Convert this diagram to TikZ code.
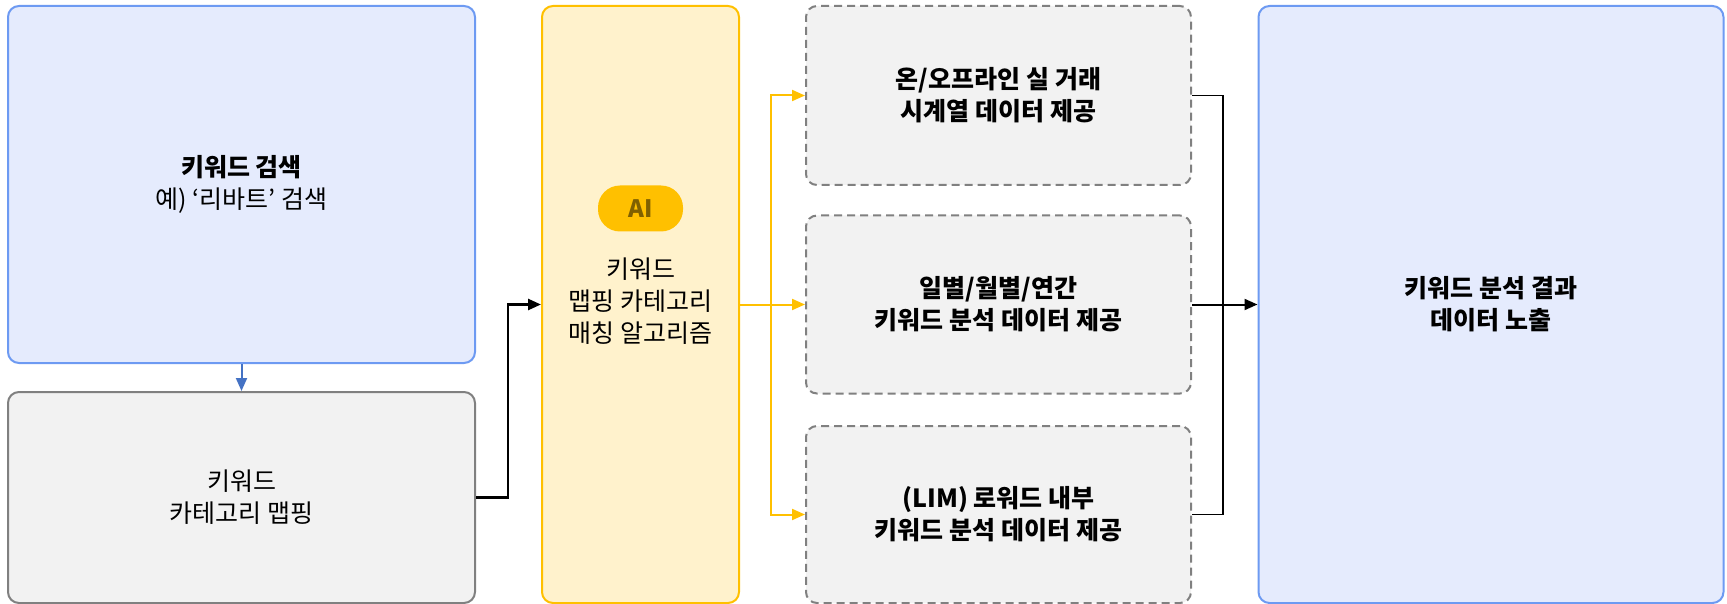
\documentclass[tikz,border=0pt]{standalone}
\usepackage{fontspec}
\setmainfont{Noto Sans CJK KR}
\usetikzlibrary{arrows.meta}
\definecolor{bluefill}{HTML}{E5EBFD}
\definecolor{bluedraw}{HTML}{6D9AF2}
\definecolor{grayfill}{HTML}{F2F2F2}
\definecolor{graydraw}{HTML}{808080}
\definecolor{yelfill}{HTML}{FFF2CC}
\definecolor{yeldraw}{HTML}{FFC000}
\definecolor{aitext}{HTML}{7F6000}
\definecolor{bluearrow}{HTML}{4472C4}
\begin{document}
\begin{tikzpicture}[x=1pt,y=-1pt,
  box/.style={draw, line width=2pt, rounded corners=11pt, inner sep=0pt, align=center,
    font=\fontsize{25}{32}\selectfont},
  bluebox/.style={box, fill=bluefill, draw=bluedraw},
  graybox/.style={box, fill=grayfill, draw=graydraw},
  dashbox/.style={box, fill=grayfill, draw=graydraw, dash pattern=on 8pt off 5pt, font=\fontsize{25}{32}\selectfont\bfseries},
  yelbox/.style={box, fill=yelfill, draw=yeldraw},
  pill/.style={fill=yeldraw, rounded corners=22pt, minimum width=85pt, minimum height=46pt, inner sep=0pt,
    text=aitext, font=\fontsize{24}{28}\selectfont\bfseries},
  tip/.style={-{Triangle[length=13pt,width=11pt]}},
]
\useasboundingbox (0,0) rectangle (1727,604);

\node[bluebox, minimum width=467pt, minimum height=357pt] (search) at (241.5,184.5)
  {\textbf{키워드 검색}\\예) ‘리바트’ 검색};
\node[graybox, minimum width=467pt, minimum height=211pt] (map) at (241.5,497.5)
  {키워드\\카테고리 맵핑};
\node[yelbox, minimum width=197pt, minimum height=597pt] (algo) at (640.5,304.5) {};
\node[pill] (ai) at (640.5,208.5) {AI};
\node[align=center, font=\fontsize{25}{32}\selectfont, inner sep=0pt] (algotext) at (640.5,301)
  {키워드\\맵핑 카테고리\\매칭 알고리즘};
\node[dashbox, minimum width=385pt, minimum height=179pt] (d1) at (998.5,95.5)
  {온/오프라인 실 거래\\시계열 데이터 제공};
\node[dashbox, minimum width=385pt, minimum height=178pt] (d2) at (998.5,304.5)
  {일별/월별/연간\\키워드 분석 데이터 제공};
\node[dashbox, minimum width=385pt, minimum height=177pt] (d3) at (998.5,514.5)
  {(LIM) 로워드 내부\\키워드 분석 데이터 제공};
\node[bluebox, minimum width=465pt, minimum height=597pt, font=\fontsize{25}{32}\selectfont\bfseries] (result) at (1491,304.5)
  {키워드 분석 결과\\데이터 노출};

\coordinate (bx) at (508,0);
\coordinate (yx) at (770.5,0);
\coordinate (rx) at (1223,0);

\draw[bluearrow, line width=2pt, tip] (search.south) -- (map.north);
\draw[black, line width=2.5pt, tip] (map.east) -- (map.east -| bx) |- (algo.west);
\draw[yeldraw, line width=2pt, tip] (algo.east) -- (d2.west);
\draw[yeldraw, line width=2pt, tip] (algo.east -| yx) |- (d1.west);
\draw[yeldraw, line width=2pt, tip] (algo.east -| yx) |- (d3.west);
\draw[black, line width=1.2pt] (d1.east) -- (d1.east -| rx) -- (d3.east -| rx) -- (d3.east);
\draw[black, line width=2pt, tip] (d2.east) -- (result.west);
\end{tikzpicture}
\end{document}
